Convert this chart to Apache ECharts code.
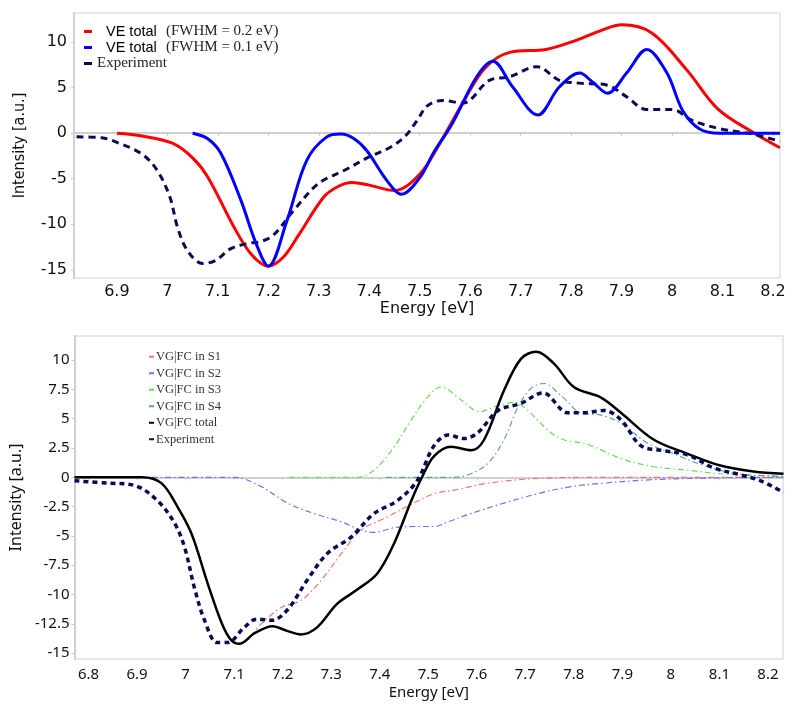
<!DOCTYPE html>
<html><head><meta charset="utf-8">
<script src="https://cdn.jsdelivr.net/npm/echarts@6/dist/echarts.min.js"></script>
<style>html,body{margin:0;padding:0;background:#fff}#c{width:800px;height:714px}</style>
</head><body><div id="c"></div>
<script>
// ---------- top panel data: [energy eV, intensity] ----------
const veTotal02 = [[6.90,0],[6.95,-0.3],[7.01,-1.1],[7.05,-2.7],[7.08,-4.8],[7.13,-10.1],[7.165,-13.2],[7.20,-14.6],[7.23,-13.6],[7.26,-11.2],[7.31,-7.0],[7.34,-5.8],[7.365,-5.4],[7.40,-5.7],[7.45,-6.3],[7.50,-4.5],[7.54,-1.1],[7.585,3.3],[7.63,7.2],[7.68,8.9],[7.75,9.2],[7.81,10.2],[7.86,11.3],[7.90,11.9],[7.96,11.0],[8.03,6.9],[8.09,2.7],[8.16,0.1],[8.214,-1.6]];
const veTotal01 = [[7.05,0],[7.08,-0.6],[7.106,-2.2],[7.146,-7.4],[7.175,-12],[7.20,-14.6],[7.237,-9.6],[7.276,-3.0],[7.316,-0.4],[7.344,-0.1],[7.37,-0.6],[7.395,-1.9],[7.435,-5.2],[7.464,-6.7],[7.50,-4.9],[7.528,-2.1],[7.565,1.1],[7.613,6.2],[7.645,7.9],[7.684,5.1],[7.734,2.0],[7.777,5.1],[7.817,6.6],[7.843,5.6],[7.872,4.4],[7.91,6.6],[7.95,9.2],[7.99,6.6],[8.021,2.5],[8.054,0.5],[8.094,0],[8.214,0]];
const expTop = [[6.82,-0.4],[6.87,-0.5],[6.90,-1.0],[6.95,-2.3],[6.98,-4.1],[7.005,-7.0],[7.02,-10.3],[7.04,-12.9],[7.07,-14.3],[7.095,-14.0],[7.125,-12.7],[7.16,-12.1],[7.185,-11.9],[7.21,-11.2],[7.25,-8.5],[7.30,-5.5],[7.35,-4.1],[7.40,-2.6],[7.44,-1.6],[7.47,-0.4],[7.495,1.4],[7.515,3.0],[7.545,3.6],[7.585,3.3],[7.638,5.8],[7.678,6.2],[7.732,7.3],[7.777,5.8],[7.817,5.5],[7.87,5.3],[7.91,4.0],[7.95,2.6],[8.0,2.6],[8.04,1.4],[8.094,0.5],[8.16,-0.1],[8.214,-0.9]];
// ---------- bottom panel data ----------
const vgS1 = [[6.771,0],[6.91,0],[6.95,-0.5],[6.983,-2.5],[7.012,-4.8],[7.045,-9.0],[7.074,-12.4],[7.094,-13.9],[7.115,-14.1],[7.156,-12.5],[7.197,-11.1],[7.238,-10.5],[7.279,-8.8],[7.321,-6.5],[7.362,-4.5],[7.415,-3.4],[7.456,-2.5],[7.512,-1.4],[7.553,-1.1],[7.623,-0.5],[7.726,-0.1],[7.85,0],[8.232,0]];
const vgS2 = [[6.93,0],[7.10,0],[7.156,-0.8],[7.21,-2.2],[7.265,-3.1],[7.321,-3.8],[7.362,-4.5],[7.388,-4.7],[7.43,-4.3],[7.471,-4.2],[7.512,-4.2],[7.541,-3.8],[7.588,-3.1],[7.656,-2.2],[7.726,-1.4],[7.794,-0.8],[7.862,-0.5],[7.965,-0.2],[8.1,-0.05],[8.232,0]];
const vgS3 = [[7.213,0],[7.353,0],[7.388,0.6],[7.43,2.6],[7.465,4.9],[7.498,6.8],[7.526,7.7],[7.568,6.6],[7.605,5.6],[7.644,6.1],[7.677,6.4],[7.705,5.7],[7.747,4.0],[7.779,3.2],[7.829,2.8],[7.897,1.6],[7.965,0.9],[8.035,0.6],[8.102,0.3],[8.232,0.05]];
const vgS4 = [[7.413,0],[7.553,0],[7.588,0.3],[7.623,1.2],[7.656,3.2],[7.685,6.0],[7.712,7.6],[7.738,8.0],[7.773,7.0],[7.814,5.5],[7.856,5.3],[7.897,4.6],[7.952,2.9],[8.006,2.0],[8.068,1.0],[8.137,0.3],[8.232,0.1]];
const vgTotal = [[6.771,0],[6.91,0],[6.95,-0.5],[6.983,-2.5],[7.012,-4.8],[7.045,-9.0],[7.074,-12.4],[7.094,-13.9],[7.111,-14.2],[7.142,-13.3],[7.179,-12.7],[7.209,-13.1],[7.238,-13.4],[7.271,-12.8],[7.312,-10.8],[7.353,-9.6],[7.395,-8.2],[7.43,-5.6],[7.465,-2.0],[7.487,0.0],[7.512,1.8],[7.547,2.6],[7.588,2.3],[7.615,3.2],[7.656,7.4],[7.691,10.1],[7.722,10.7],[7.759,9.7],[7.80,7.7],[7.856,6.8],[7.897,5.5],[7.965,3.2],[8.035,2.0],[8.102,1.0],[8.17,0.5],[8.232,0.3]];
const expBottom = [[6.771,-0.3],[6.84,-0.5],[6.895,-0.7],[6.942,-2.0],[6.977,-3.9],[6.998,-6.0],[7.018,-9.4],[7.039,-12.2],[7.065,-14.1],[7.086,-14.1],[7.121,-12.8],[7.146,-12.1],[7.177,-12.2],[7.21,-11.3],[7.25,-8.8],[7.292,-6.5],[7.341,-5.1],[7.388,-3.1],[7.436,-2.0],[7.477,-0.3],[7.512,2.7],[7.541,3.6],[7.574,3.3],[7.602,3.8],[7.644,5.7],[7.691,6.3],[7.736,7.2],[7.788,5.5],[7.821,5.5],[7.862,5.7],[7.897,4.9],[7.938,2.7],[7.979,2.3],[8.035,1.9],[8.088,0.8],[8.144,0.2],[8.185,-0.3],[8.232,-1.3]];
// ---------- ticks ----------
const xTicksTop = [6.9,7.0,7.1,7.2,7.3,7.4,7.5,7.6,7.7,7.8,7.9,8.0,8.1,8.2];
const yTicksTop = [-15,-10,-5,0,5,10];
const xTicksBottom = [6.8,6.9,7.0,7.1,7.2,7.3,7.4,7.5,7.6,7.7,7.8,7.9,8.0,8.1,8.2];
const yTicksBottom = [-15,-12.5,-10,-7.5,-5,-2.5,0,2.5,5,7.5,10];
// ---------- labels ----------
const topLabels = {
  've02': ['VE total', '(FWHM = 0.2 eV)'],
  've01': ['VE total', '(FWHM = 0.1 eV)'],
  'expT': ['', 'Experiment']
};
const bottomLabels = {
  's1': 'VG|FC in S1', 's2': 'VG|FC in S2', 's3': 'VG|FC in S3', 's4': 'VG|FC in S4',
  'tot': 'VG|FC total', 'expB': 'Experiment'
};

const fmt = v => String(+(+v).toFixed(2));
const chart = echarts.init(document.getElementById('c'));
const axisLine = {show:true, lineStyle:{color:'#d0d0d0', width:2}};
const dashDot = [6,3,1.5,3];

function xAxis(gi, min, max, ticks, font, size, margin, nameGap) {
  return {type:'value', gridIndex:gi, min:min, max:max,
    name:'Energy [eV]', nameLocation:'middle', nameGap:nameGap,
    nameTextStyle:{fontFamily:font, fontSize:size, color:'#111'},
    axisLine:axisLine, splitLine:{show:false},
    axisTick:{show:true, customValues:ticks, length:3, lineStyle:{color:'#ccc'}},
    axisLabel:{customValues:ticks, formatter:fmt, fontFamily:font, fontSize:size, color:'#111', margin:margin}};
}
function yAxis(gi, min, max, ticks, font, size, nameFont, nameSize, nameGap, margin) {
  return {type:'value', gridIndex:gi, min:min, max:max,
    name:'Intensity [a.u.]', nameLocation:'middle', nameGap:nameGap, nameRotate:90,
    nameTextStyle:{fontFamily:nameFont, fontSize:nameSize, color:'#111'},
    axisLine:axisLine, splitLine:{show:false},
    axisTick:{show:true, customValues:ticks, length:3, lineStyle:{color:'#ccc'}},
    axisLabel:{customValues:ticks, formatter:fmt, fontFamily:font, fontSize:size, color:'#111', margin:margin}};
}
function line(name, data, xi, color, width, type, z) {
  return {name:name, type:'line', xAxisIndex:xi, yAxisIndex:xi, data:data, showSymbol:false, symbol:'none',
    smooth:0.35, z:z||2, lineStyle:{color:color, width:width, type:type||'solid'}, itemStyle:{color:color}, silent:true, animation:false};
}

chart.setOption({
  animation:false,
  grid:[
    {left:74, right:20, top:13, height:265, show:true, borderColor:'#d0d0d0', borderWidth:1},
    {left:73, right:17, top:336, bottom:55, show:true, borderColor:'#d0d0d0', borderWidth:1}
  ],
  xAxis:[
    xAxis(0, 6.815, 8.214, xTicksTop, 'DejaVu Sans', 16, 6, 23),
    xAxis(1, 6.771, 8.231, xTicksBottom, 'Noto Sans', 15, 8, 26)
  ],
  yAxis:[
    yAxis(0, -15.9, 13.2, yTicksTop, 'DejaVu Sans', 16, 'DejaVu Sans Condensed', 16, 46, 7),
    yAxis(1, -15.5, 12.05, yTicksBottom, 'Noto Sans', 15, 'Noto Sans', 16, 40, 5)
  ],
  legend:[
    {data:['ve02','ve01','expT'], orient:'vertical', left:79, top:19, itemWidth:8, itemHeight:3, icon:'rect', itemGap:1,
     selectedMode:false,
     formatter:n => topLabels[n][0] ? '{a|' + topLabels[n][0] + '}{b|' + topLabels[n][1] + '}' : '{c|' + topLabels[n][1] + '}',
     textStyle:{rich:{
       a:{fontFamily:'Liberation Sans', fontSize:14.5, color:'#000', width:60, padding:[0,0,0,9], lineHeight:14},
       b:{fontFamily:'Liberation Serif', fontSize:15, color:'#222', lineHeight:14},
       c:{fontFamily:'Liberation Serif', fontSize:15, color:'#222', lineHeight:12}
     }}},
    {data:['s1','s2','s3','s4','tot','expB'], orient:'vertical', left:144, top:345, itemWidth:5, itemHeight:2, icon:'rect', itemGap:3,
     selectedMode:false, formatter:n => bottomLabels[n],
     textStyle:{fontFamily:'Liberation Serif', fontSize:12.5, color:'#333', padding:[0,0,0,-3], lineHeight:13.5}}
  ],
  series:[
    line('expT', expTop, 0, '#0b0b55', 3, [7,5], 3),
    line('ve02', veTotal02, 0, '#ff0000', 3, 'solid', 2),
    line('ve01', veTotal01, 0, '#0000ff', 3, 'solid', 4),
    line('s1', vgS1, 1, '#ff7070', 1.2, dashDot, 2),
    line('s2', vgS2, 1, '#7070ff', 1.2, dashDot, 2),
    line('s3', vgS3, 1, '#66dd55', 1.2, dashDot, 2),
    line('s4', vgS4, 1, '#5f9fa0', 1.2, dashDot, 2),
    line('tot', vgTotal, 1, '#000000', 2.5, 'solid', 4),
    line('expB', expBottom, 1, '#0b0b55', 3.5, [5,4], 5)
  ]
});
</script></body></html>
